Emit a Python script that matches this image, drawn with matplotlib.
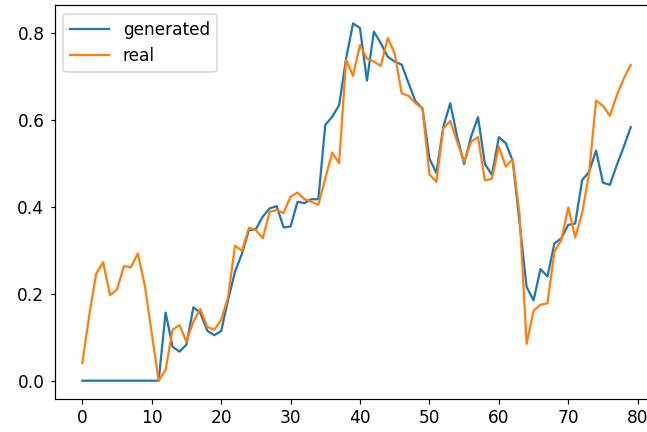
import matplotlib
matplotlib.use("Agg")
import matplotlib.pyplot as plt
import numpy as np

generated = [0, 0, 0, 0, 0, 0, 0, 0, 0, 0, 0, 0,
             0.157, 0.078, 0.067, 0.083, 0.169, 0.156, 0.115, 0.105,
             0.114, 0.186, 0.251, 0.293, 0.347, 0.349, 0.378, 0.397, 0.402, 0.353,
             0.355, 0.412, 0.409, 0.418, 0.418, 0.589, 0.608, 0.635, 0.742, 0.823,
             0.812, 0.691, 0.804, 0.777, 0.746, 0.735, 0.728, 0.685, 0.643, 0.627,
             0.512, 0.478, 0.585, 0.639, 0.562, 0.499, 0.562, 0.607, 0.499, 0.474,
             0.561, 0.547, 0.506, 0.362, 0.216, 0.185, 0.257, 0.240, 0.316, 0.328,
             0.359, 0.362, 0.462, 0.481, 0.530, 0.456, 0.451, 0.497, 0.539, 0.584]
real = [0.041, 0.15, 0.246, 0.273, 0.197, 0.210, 0.264, 0.261, 0.293, 0.220,
        0.11, 0.0, 0.025, 0.117, 0.128, 0.090, 0.136, 0.165, 0.124, 0.117,
        0.140, 0.193, 0.311, 0.299, 0.352, 0.347, 0.328, 0.389, 0.393, 0.386,
        0.424, 0.433, 0.418, 0.412, 0.405, 0.466, 0.525, 0.501, 0.739, 0.702,
        0.773, 0.742, 0.735, 0.725, 0.789, 0.754, 0.662, 0.656, 0.639, 0.627,
        0.475, 0.458, 0.581, 0.598, 0.550, 0.504, 0.550, 0.561, 0.461, 0.465,
        0.539, 0.493, 0.510, 0.38, 0.085, 0.161, 0.175, 0.178, 0.297, 0.324,
        0.399, 0.330, 0.386, 0.478, 0.645, 0.633, 0.610, 0.658, 0.696, 0.727]

plt.rcParams["font.size"] = 11.3
plt.rcParams["xtick.major.size"] = 3
plt.rcParams["ytick.major.size"] = 3
plt.rcParams["xtick.major.pad"] = 4
plt.rcParams["ytick.major.pad"] = 4

W, H, DPI = 647, 432, 108
fig = plt.figure(figsize=(W / DPI, H / DPI), dpi=DPI)
ax = fig.add_axes([0.1, 0.1, 0.8, 0.8])
ax.plot(generated, label="generated")
ax.plot(real, label="real")
ax.legend(loc="upper left", handlelength=2.3)

# place axes so data coordinates land where they do in the reference
x0_px, x_per = 82.3, 6.9425
y0_px, y_per = 380.7, 434.2
xl = ax.get_xlim()
yl = ax.get_ylim()
left = x0_px + xl[0] * x_per
right = x0_px + xl[1] * x_per
top = y0_px - yl[1] * y_per
bottom = y0_px - yl[0] * y_per
ax.set_position([left / W, 1 - bottom / H, (right - left) / W, (bottom - top) / H])

fig.savefig("out.png", dpi=DPI)
